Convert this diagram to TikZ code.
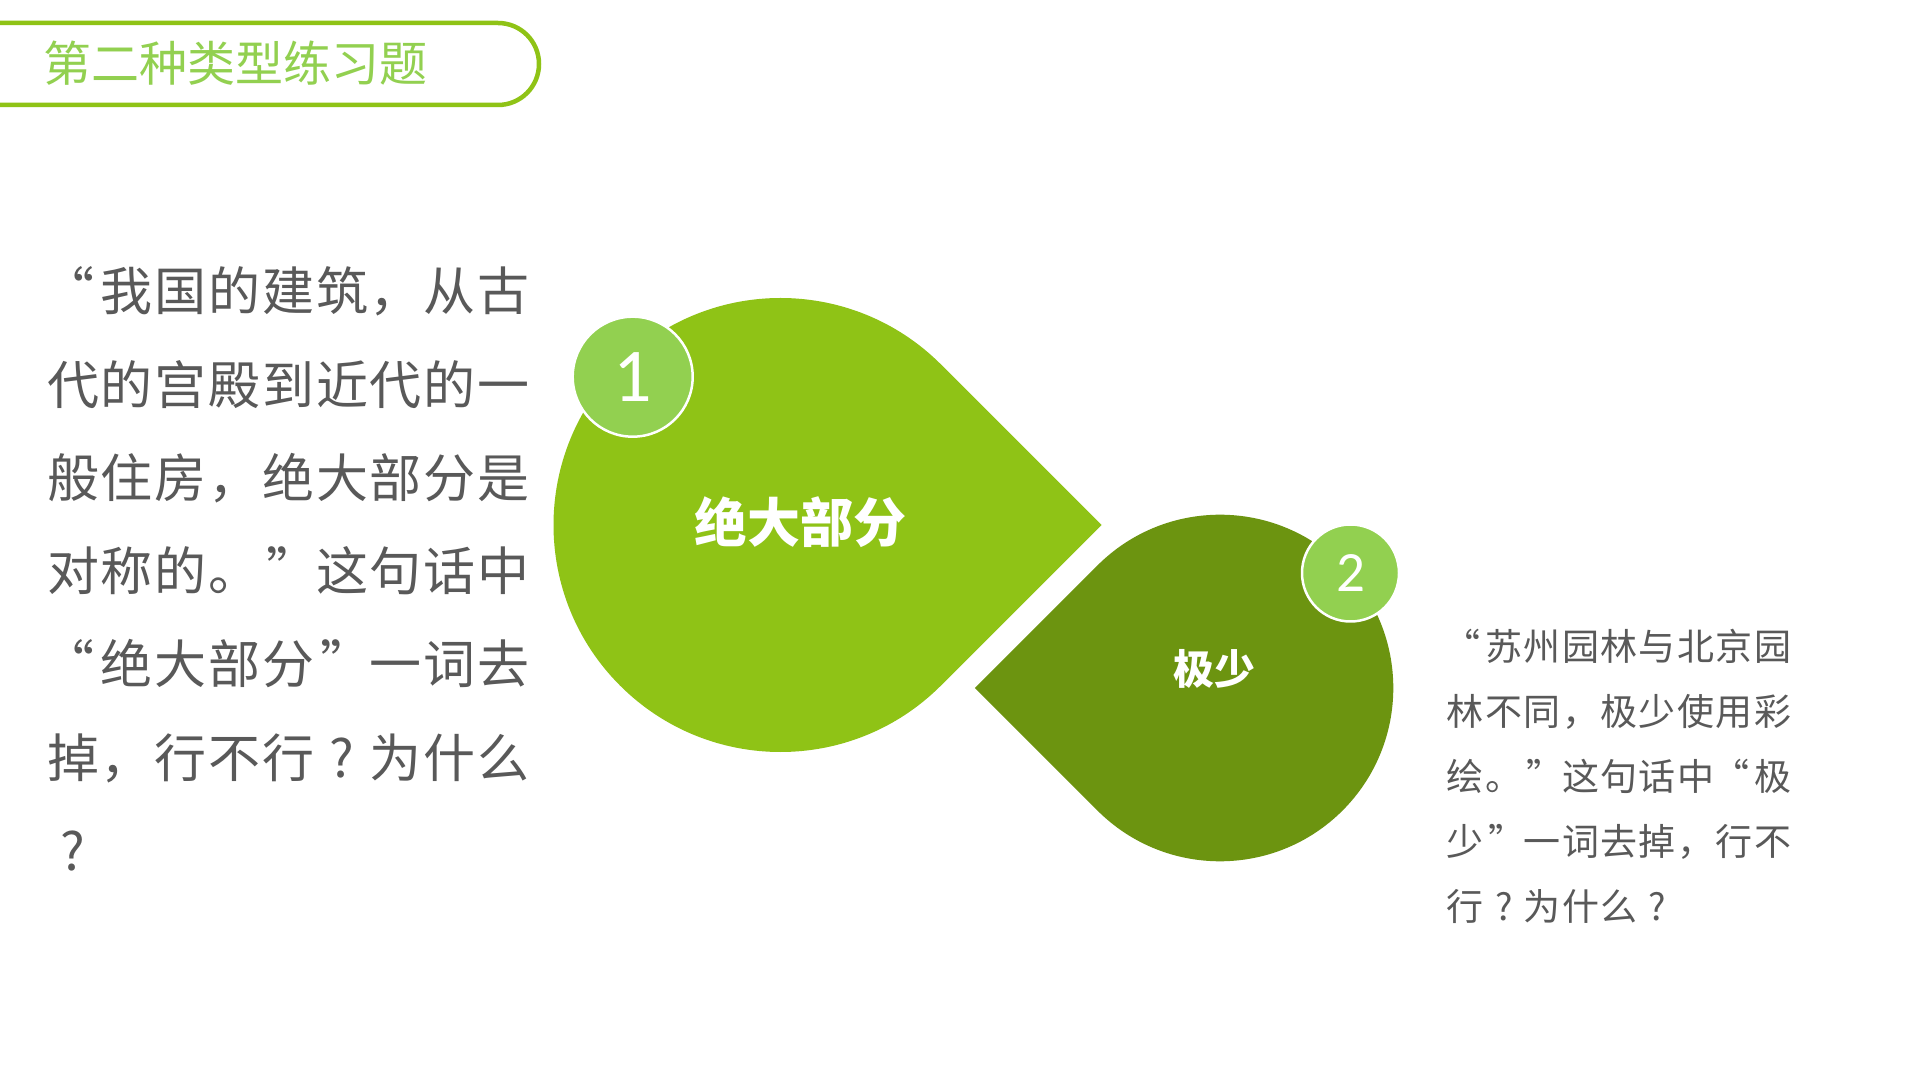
\documentclass[tikz,border=0pt]{standalone}
\usepackage{fontspec}
\usetikzlibrary{calc}
\newfontfamily\cjk{Noto Sans CJK SC}
\newfontfamily\numfont{Carlito}
\definecolor{bigc}{RGB}{143,195,22}
\definecolor{smallc}{RGB}{108,148,16}
\definecolor{badgec}{RGB}{146,208,80}
\definecolor{txt}{RGB}{89,89,89}
\definecolor{titlec}{RGB}{146,208,80}
\newlength\gw
\makeatletter
\def\oq{“}\def\cq{”}
\def\cells#1#2{\setlength\gw{#1}\cells@#2\relax}
\def\cells@#1{%
  \ifx\relax#1\else
    \ifx\oq#1\makebox[\gw][r]{“\hspace{0.1em}}%
    \else\ifx\cq#1\makebox[\gw][l]{\hspace{0.1em}”}%
    \else\makebox[\gw]{#1}\fi\fi
  \expandafter\cells@\fi}
\makeatother
\tikzset{
  lefttext/.style={anchor=base west, inner sep=0pt, text=txt, font=\cjk\fontsize{52}{60}\selectfont},
  righttext/.style={anchor=base west, inner sep=0pt, text=txt, font=\cjk\fontsize{37}{44}\selectfont},
  badge/.style={circle, fill=badgec, draw=white, line width=2.5pt, inner sep=0pt, text=white},
  droplabel/.style={text=white, inner sep=0pt},
}
\begin{document}
\begin{tikzpicture}[x=1pt,y=1pt]
\useasboundingbox (0,0) rectangle (1920,1080);
\fill[white] (0,0) rectangle (1920,1080);

% title
\draw[bigc, line width=4.5pt, rounded corners=41pt] (-120,975) rectangle (539,1057);
\node[anchor=base west, inner sep=0pt, text=titlec, font=\cjk\fontsize{48}{48}\selectfont] (title) at (43,998) {第二种类型练习题};

% drops
\coordinate (c1) at (780.5,555);
\coordinate (t1) at (1101.5,555);
\fill[bigc] (t1) -- ($(c1)+(45:227pt)$) arc[start angle=45, end angle=315, radius=227pt] -- cycle;
\coordinate (c2) at (1220,392);
\coordinate (t2) at (974.9,392);
\fill[smallc] (t2) -- ($(c2)+(135:173.3pt)$) arc[start angle=135, end angle=-135, radius=173.3pt] -- cycle;

\node[droplabel, font=\cjk\bfseries\fontsize{53}{53}\selectfont] (l1) at (800,558) {绝大部分};
\node[droplabel, font=\cjk\bfseries\fontsize{41}{41}\selectfont] (l2) at (1214,411) {极少};

% badges
\node[badge, minimum size=120pt, font=\numfont\fontsize{76}{76}\selectfont] (b1) at (632.7,703.3) {1};
\node[badge, minimum size=97pt, font=\numfont\fontsize{57}{57}\selectfont] (b2) at (1350.5,507) {2};

% left text
\node[lefttext] (a1) at (46,769.2) {\cells{53.8pt}{\oq 我国的建筑，从古}};
\node[lefttext] (a2) at (46,675.9) {\cells{53.8pt}{代的宫殿到近代的一}};
\node[lefttext] (a3) at (46,582.6) {\cells{53.8pt}{般住房，绝大部分是}};
\node[lefttext] (a4) at (46,489.3) {\cells{53.8pt}{对称的。\cq 这句话中}};
\node[lefttext] (a5) at (46,396.0) {\cells{53.8pt}{\oq 绝大部分\cq 一词去}};
\node[lefttext] (a6) at (46,302.7) {\cells{53.8pt}{掉，行不行?为什么}};
\node[lefttext] (a7) at (46,209.4) {\cells{53.8pt}{?}};

% right text
\node[righttext] (r1) at (1446,419.4) {\cells{38.4pt}{\oq 苏州园林与北京园}};
\node[righttext] (r2) at (1446,354.5) {\cells{38.4pt}{林不同，极少使用彩}};
\node[righttext] (r3) at (1446,289.6) {\cells{38.4pt}{绘。\cq 这句话中\oq 极}};
\node[righttext] (r4) at (1446,224.7) {\cells{38.4pt}{少\cq 一词去掉，行不}};
\node[righttext] (r5) at (1446,159.8) {\cells{38.4pt}{行?为什么?}};
\end{tikzpicture}
\end{document}
